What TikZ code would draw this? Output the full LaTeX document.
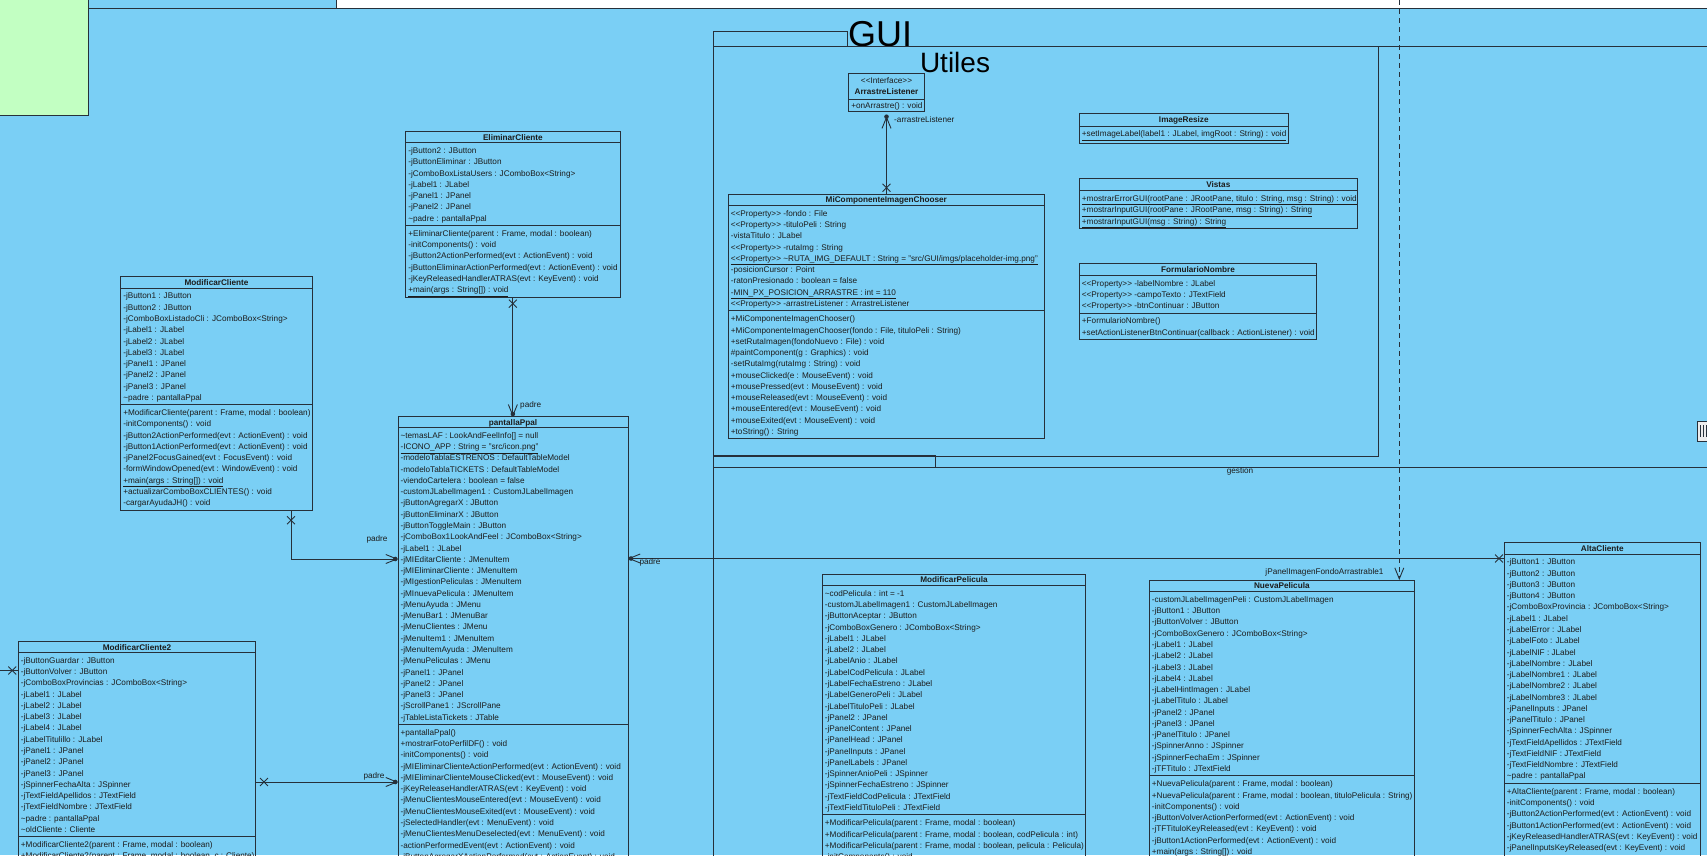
\documentclass[tikz,border=0pt]{standalone}
\usepackage{fontspec}
\setmainfont{Liberation Sans}
\usetikzlibrary{arrows.meta,shapes.misc}
\definecolor{bgblue}{RGB}{122,207,245}
\definecolor{lc}{RGB}{38,48,58}
\definecolor{tc}{RGB}{28,28,28}
\definecolor{pkggreen}{RGB}{194,255,194}
\newcommand\sopen{<\kern0pt<}
\newcommand\sclose{>\kern0pt>}
\newcommand\pk{\textasciitilde}
\newcommand\rowh{11.27}
\tikzset{
  ln/.style={draw=lc, line width=0.9pt},
  classbox/.style={draw=lc, line width=0.9pt, inner sep=0pt, outer sep=0pt},
  row/.style={anchor=west, inner sep=0pt, text=tc, font=\fontsize{8.2}{9}\selectfont, text height=7pt, text depth=1.2pt},
  hdr/.style={inner sep=0pt, text=tc, font=\fontsize{8.2}{9}\selectfont\bfseries, text height=7pt, text depth=1.2pt},
  lbl/.style={inner sep=0pt, text=tc, font=\fontsize{8.2}{9}\selectfont, text height=7pt, text depth=1.2pt},
  assoc/.style={draw=lc, line width=0.9pt},
  navarrow/.style={-{Straight Barb[length=11pt,width=9pt]}},
  xend/.style={cross out, draw=lc, line width=0.9pt, minimum size=7pt, inner sep=0pt},
  own/.style={circle, fill=lc, inner sep=0pt, minimum size=4.6pt},
}
% #1 name, #2 x, #3 y, #4 width, #5 header height, #6 title, #7 attributes, #8 methods, #9 extra bottom
\newcommand\umlclass[9]{%
  \pgfmathsetmacro\ya{#3+#5}%
  \foreach \itm [count=\ci] in {#7} {%
    \node[row] (#1-a\ci) at ({#2+2.4},{\ya+2.3+(\ci-0.5)*\rowh}) {\itm};
    \xdef\nattr{\ci}}%
  \pgfmathsetmacro\yb{\ya+\nattr*\rowh+4}%
  \foreach \itm [count=\ci] in {#8} {%
    \node[row] (#1-m\ci) at ({#2+2.4},{\yb+2.3+(\ci-0.5)*\rowh}) {\itm};
    \xdef\nmeth{\ci}}%
  \pgfmathsetmacro\yc{\yb+\nmeth*\rowh+4+#9}%
  \pgfmathsetmacro\hh{\yc-#3}%
  \node[classbox, anchor=north west, minimum width=#4pt, minimum height=\hh pt] (#1) at (#2,#3) {};
  \draw[ln] (#2,\ya) -- ++(#4,0);
  \draw[ln] (#2,\yb) -- ++(#4,0);
  \node[hdr] (#1-t) at ({#2+#4/2},{#3+#5/2}) {#6};
}
% one compartment: #1 name, #2 x, #3 y, #4 width, #5 header height, #6 title, #7 rows, #8 extra bottom
\newcommand\umlclassone[8]{%
  \pgfmathsetmacro\ya{#3+#5}%
  \foreach \itm [count=\ci] in {#7} {%
    \node[row] (#1-m\ci) at ({#2+2.4},{\ya+2.3+(\ci-0.5)*\rowh}) {\itm};
    \xdef\nmeth{\ci}}%
  \pgfmathsetmacro\yc{\ya+\nmeth*\rowh+4+#8}%
  \pgfmathsetmacro\hh{\yc-#3}%
  \node[classbox, anchor=north west, minimum width=#4pt, minimum height=\hh pt] (#1) at (#2,#3) {};
  \draw[ln] (#2,\ya) -- ++(#4,0);
  \node[hdr] (#1-t) at ({#2+#4/2},{#3+#5/2}) {#6};
}
\begin{document}
\begin{tikzpicture}[x=1pt,y=-1pt]
\useasboundingbox (0,0) rectangle (1707,855);
\clip (0,0) rectangle (1707,855);
\fill[bgblue] (0,0) rectangle (1707,855);
\fill[white] (336,0) rectangle (1707,8);
\draw[draw=lc, line width=0.5pt] (336,0) -- (336,8);
\draw[ln] (88,8) -- (1710,8);
\filldraw[fill=pkggreen, draw=lc, line width=0.9pt] (-2,-2) rectangle (88,115);

% packages
\draw[ln] (713,31) rectangle (847,46);
\draw[ln] (713,870) -- (713,46) -- (1710,46);
\node[anchor=base west, inner sep=0pt, text=black, font=\fontsize{36}{36}\selectfont] (guititle) at (848,46.5) {GUI};
\draw[ln] (713,46) rectangle (1378,456);
\node[anchor=base, inner sep=0pt, text=black, font=\fontsize{28}{28}\selectfont] (utilestitle) at (955,72) {Utiles};
\draw[ln] (713,455) rectangle (935,467);
\draw[ln] (713,467) -- (1710,467);
\node[lbl] (gestiontitle) at (1240,470.5) {gestion};

% scroll handle at right edge
\draw[draw=lc, line width=0.6pt, fill=gray!15] (1697,421) rectangle (1712,441);
\foreach \xx in {1700,1703,1706} {\draw[draw=lc, line width=0.6pt] (\xx,425) -- (\xx,437);}

% ---------------- classes ----------------
\umlclass{elim}{405.7}{131.7}{214.3}{11}{EliminarCliente}
{-jButton2 : JButton, -jButtonEliminar : JButton, -jComboBoxListaUsers : JComboBox<String>, -jLabel1 : JLabel, -jPanel1 : JPanel, -jPanel2 : JPanel, \pk padre : pantallaPpal}
{{+EliminarCliente(parent : Frame, modal : boolean)}, -initComponents() : void, -jButton2ActionPerformed(evt : ActionEvent) : void, -jButtonEliminarActionPerformed(evt : ActionEvent) : void, -jKeyReleasedHandlerATRAS(evt : KeyEvent) : void, \underline{+main(args : String[]) : void}}{0}

\umlclass{modc}{120.7}{276.7}{191.6}{11.4}{ModificarCliente}
{-jButton1 : JButton, -jButton2 : JButton, -jComboBoxListadoCli : JComboBox<String>, -jLabel1 : JLabel, -jLabel2 : JLabel, -jLabel3 : JLabel, -jPanel1 : JPanel, -jPanel2 : JPanel, -jPanel3 : JPanel, \pk padre : pantallaPpal}
{{+ModificarCliente(parent : Frame, modal : boolean)}, -initComponents() : void, -jButton2ActionPerformed(evt : ActionEvent) : void, -jButton1ActionPerformed(evt : ActionEvent) : void, -jPanel2FocusGained(evt : FocusEvent) : void, -formWindowOpened(evt : WindowEvent) : void, \underline{+main(args : String[]) : void}, +actualizarComboBoxCLIENTES() : void, -cargarAyudaJH() : void}{0}

\umlclass{ppal}{398}{416.7}{230}{10.8}{pantallaPpal}
{\pk temasLAF : LookAndFeelInfo[] = null, \underline{-ICONO\_APP : String = "src/icon.png"}, -modeloTablaESTRENOS : DefaultTableModel, -modeloTablaTICKETS : DefaultTableModel, -viendoCartelera : boolean = false, -customJLabelImagen1 : CustomJLabelImagen, -jButtonAgregarX : JButton, -jButtonEliminarX : JButton, -jButtonToggleMain : JButton, -jComboBox1LookAndFeel : JComboBox<String>, -jLabel1 : JLabel, -jMIEditarCliente : JMenuItem, -jMIEliminarCliente : JMenuItem, -jMIgestionPeliculas : JMenuItem, -jMInuevaPelicula : JMenuItem, -jMenuAyuda : JMenu, -jMenuBar1 : JMenuBar, -jMenuClientes : JMenu, -jMenuItem1 : JMenuItem, -jMenuItemAyuda : JMenuItem, -jMenuPeliculas : JMenu, -jPanel1 : JPanel, -jPanel2 : JPanel, -jPanel3 : JPanel, -jScrollPane1 : JScrollPane, -jTableListaTickets : JTable}
{+pantallaPpal(), +mostrarFotoPerfilDF() : void, -initComponents() : void, -jMIEliminarClienteActionPerformed(evt : ActionEvent) : void, -jMIEliminarClienteMouseClicked(evt : MouseEvent) : void, -jKeyReleaseHandlerATRAS(evt : KeyEvent) : void, -jMenuClientesMouseEntered(evt : MouseEvent) : void, -jMenuClientesMouseExited(evt : MouseEvent) : void, -jSelectedHandler(evt : MenuEvent) : void, -jMenuClientesMenuDeselected(evt : MenuEvent) : void, -actionPerformedEvent(evt : ActionEvent) : void, -jButtonAgregarXActionPerformed(evt : ActionEvent) : void}{0}

\umlclass{mc2}{18.3}{641.7}{237.4}{10.8}{ModificarCliente2}
{-jButtonGuardar : JButton, -jButtonVolver : JButton, -jComboBoxProvincias : JComboBox<String>, -jLabel1 : JLabel, -jLabel2 : JLabel, -jLabel3 : JLabel, -jLabel4 : JLabel, -jLabelTitulillo : JLabel, -jPanel1 : JPanel, -jPanel2 : JPanel, -jPanel3 : JPanel, -jSpinnerFechaAlta : JSpinner, -jTextFieldApellidos : JTextField, -jTextFieldNombre : JTextField, \pk padre : pantallaPpal, \pk oldCliente : Cliente}
{{+ModificarCliente2(parent : Frame, modal : boolean)}, {+ModificarCliente2(parent : Frame, modal : boolean, c : Cliente)}}{0}

% ArrastreListener (interface)
\node[classbox, anchor=north west, minimum width=75.6pt, minimum height=38.4pt] (arr) at (848.7,73.3) {};
\draw[ln] (848.7,99.3) -- ++(75.6,0);
\node[lbl] (arr-s) at (886.5,80.2) {\sopen Interface\sclose};
\node[hdr] (arr-t) at (886.5,91.3) {ArrastreListener};
\node[row] (arr-m1) at (851.1,105.6) {+onArrastre() : void};

\umlclass{micomp}{728.3}{194.3}{316}{11.2}{MiComponenteImagenChooser}
{\sopen Property\sclose\ -fondo : File, \sopen Property\sclose\ -tituloPeli : String, -vistaTitulo : JLabel, \sopen Property\sclose\ -rutaImg : String, \underline{\sopen Property\sclose\ \pk RUTA\_IMG\_DEFAULT : String = "src/GUI/imgs/placeholder-img.png"}, -posicionCursor : Point, -ratonPresionado : boolean = false, \underline{-MIN\_PX\_POSICION\_ARRASTRE : int = 110}, \sopen Property\sclose\ -arrastreListener : ArrastreListener}
{+MiComponenteImagenChooser(), {+MiComponenteImagenChooser(fondo : File, tituloPeli : String)}, +setRutaImagen(fondoNuevo : File) : void, \#paintComponent(g : Graphics) : void, -setRutaImg(rutaImg : String) : void, +mouseClicked(e : MouseEvent) : void, +mousePressed(evt : MouseEvent) : void, +mouseReleased(evt : MouseEvent) : void, +mouseEntered(evt : MouseEvent) : void, +mouseExited(evt : MouseEvent) : void, +toString() : String}{0}

\umlclassone{imgr}{1079.3}{113.3}{209}{12.7}{ImageResize}
{{\underline{+setImageLabel(label1 : JLabel, imgRoot : String) : void}}}{2}

\umlclassone{vistas}{1079.3}{178.7}{278}{12}{Vistas}
{{\underline{+mostrarErrorGUI(rootPane : JRootPane, titulo : String, msg : String) : void}}, {\underline{+mostrarInputGUI(rootPane : JRootPane, msg : String) : String}}, \underline{+mostrarInputGUI(msg : String) : String}}{0}

\umlclass{formn}{1079.3}{263.3}{237.4}{12}{FormularioNombre}
{\sopen Property\sclose\ -labelNombre : JLabel, \sopen Property\sclose\ -campoTexto : JTextField, \sopen Property\sclose\ -btnContinuar : JButton}
{+FormularioNombre(), +setActionListenerBtnContinuar(callback : ActionListener) : void}{0}

\umlclass{modpel}{822.3}{574}{263.4}{11.5}{ModificarPelicula}
{\pk codPelicula : int = -1, -customJLabelImagen1 : CustomJLabelImagen, -jButtonAceptar : JButton, -jComboBoxGenero : JComboBox<String>, -jLabel1 : JLabel, -jLabel2 : JLabel, -jLabelAnio : JLabel, -jLabelCodPelicula : JLabel, -jLabelFechaEstreno : JLabel, -jLabelGeneroPeli : JLabel, -jLabelTituloPeli : JLabel, -jPanel2 : JPanel, -jPanelContent : JPanel, -jPanelHead : JPanel, -jPanelInputs : JPanel, -jPanelLabels : JPanel, -jSpinnerAnioPeli : JSpinner, -jSpinnerFechaEstreno : JSpinner, -jTextFieldCodPelicula : JTextField, -jTextFieldTituloPeli : JTextField}
{{+ModificarPelicula(parent : Frame, modal : boolean)}, {+ModificarPelicula(parent : Frame, modal : boolean, codPelicula : int)}, {+ModificarPelicula(parent : Frame, modal : boolean, pelicula : Pelicula)}, -initComponents() : void}{0}

\umlclass{nueva}{1149.3}{580}{265}{11.6}{NuevaPelicula}
{-customJLabelImagenPeli : CustomJLabelImagen, -jButton1 : JButton, -jButtonVolver : JButton, -jComboBoxGenero : JComboBox<String>, -jLabel1 : JLabel, -jLabel2 : JLabel, -jLabel3 : JLabel, -jLabel4 : JLabel, -jLabelHintImagen : JLabel, -jLabelTitulo : JLabel, -jPanel2 : JPanel, -jPanel3 : JPanel, -jPanelTitulo : JPanel, -jSpinnerAnno : JSpinner, -jSpinnerFechaEm : JSpinner, -jTFTitulo : JTextField}
{{+NuevaPelicula(parent : Frame, modal : boolean)}, {+NuevaPelicula(parent : Frame, modal : boolean, tituloPelicula : String)}, -initComponents() : void, -jButtonVolverActionPerformed(evt : ActionEvent) : void, -jTFTituloKeyReleased(evt : KeyEvent) : void, -jButton1ActionPerformed(evt : ActionEvent) : void, \underline{+main(args : String[]) : void}}{0}

\umlclass{alta}{1504.3}{542.7}{196}{11.3}{AltaCliente}
{-jButton1 : JButton, -jButton2 : JButton, -jButton3 : JButton, -jButton4 : JButton, -jComboBoxProvincia : JComboBox<String>, -jLabel1 : JLabel, -jLabelError : JLabel, -jLabelFoto : JLabel, -jLabelNIF : JLabel, -jLabelNombre : JLabel, -jLabelNombre1 : JLabel, -jLabelNombre2 : JLabel, -jLabelNombre3 : JLabel, -jPanelInputs : JPanel, -jPanelTitulo : JPanel, -jSpinnerFechAlta : JSpinner, -jTextFieldApellidos : JTextField, -jTextFieldNIF : JTextField, -jTextFieldNombre : JTextField, \pk padre : pantallaPpal}
{{+AltaCliente(parent : Frame, modal : boolean)}, -initComponents() : void, -jButton2ActionPerformed(evt : ActionEvent) : void, -jButton1ActionPerformed(evt : ActionEvent) : void, -jKeyReleasedHandlerATRAS(evt : KeyEvent) : void, -jPanelInputsKeyReleased(evt : KeyEvent) : void}{15}

% ---------------- connectors ----------------
% EliminarCliente -> pantallaPpal
\draw[assoc, navarrow] (elim.south) -- (elim.south |- ppal.north);
\node[xend] (x-elim) at ([yshift=-6.5pt]elim.south) {};
\node[own] (o-elim) at ([yshift=2.7pt]elim.south |- ppal.north) {};
\node[lbl, anchor=west] (l-elim) at (520,404.5) {padre};

% ModificarCliente -> pantallaPpal
\draw[assoc, navarrow] ([xshift=170.3pt]modc.south west) |- ([yshift=-142.3pt]ppal.north west);
\node[xend] (x-modc) at ([xshift=170.3pt,yshift=-10pt]modc.south west) {};
\node[own] (o-modc) at ([xshift=-2.7pt,yshift=-142.3pt]ppal.north west) {};
\node[lbl] (l-modc) at (377,539) {padre};

% ModificarCliente2 -> pantallaPpal
\draw[assoc, navarrow] ([yshift=-140.3pt]mc2.north east) -- ([yshift=-365.3pt]ppal.north west);
\node[xend] (x-mc2) at ([xshift=8.3pt,yshift=-140.3pt]mc2.north east) {};
\node[own] (o-mc2) at ([xshift=-2.7pt,yshift=-365.3pt]ppal.north west) {};
\node[lbl] (l-mc2) at (374,775.7) {padre};

% incoming association to ModificarCliente2 from the left
\coordinate (mc2src) at (0,670.5);
\draw[assoc] (mc2src) -- (mc2src -| mc2.west);
\node[xend] (x-mc2l) at ([xshift=-6pt]mc2src -| mc2.west) {};

% AltaCliente -> pantallaPpal
\draw[assoc, navarrow] ([yshift=-15.8pt]alta.north west) -- ([yshift=-141.8pt]ppal.north east);
\node[xend] (x-alta) at ([xshift=-5.3pt,yshift=-15.8pt]alta.north west) {};
\node[own] (o-alta) at ([xshift=3pt,yshift=-141.8pt]ppal.north east) {};
\node[lbl] (l-alta) at (650,561.5) {padre};

% MiComponenteImagenChooser -> ArrastreListener
\draw[assoc, navarrow] (micomp.north -| arr.south) -- ([yshift=-4.5pt]arr.south);
\node[xend] (x-micomp) at ([yshift=6.6pt]micomp.north -| arr.south) {};
\node[own] (o-micomp) at ([yshift=-5pt]arr.south) {};
\node[lbl, anchor=west] (l-micomp) at (894,119.3) {-arrastreListener};

% dependency to NuevaPelicula
\coordinate (deptop) at (1399.3,0);
\draw[assoc, dash pattern=on 5pt off 4pt, navarrow] (deptop) -- (deptop |- nueva.north);
\node[lbl] (l-dep) at (1324.5,571.7) {jPanelImagenFondoArrastrable1};
\end{tikzpicture}
\end{document}
